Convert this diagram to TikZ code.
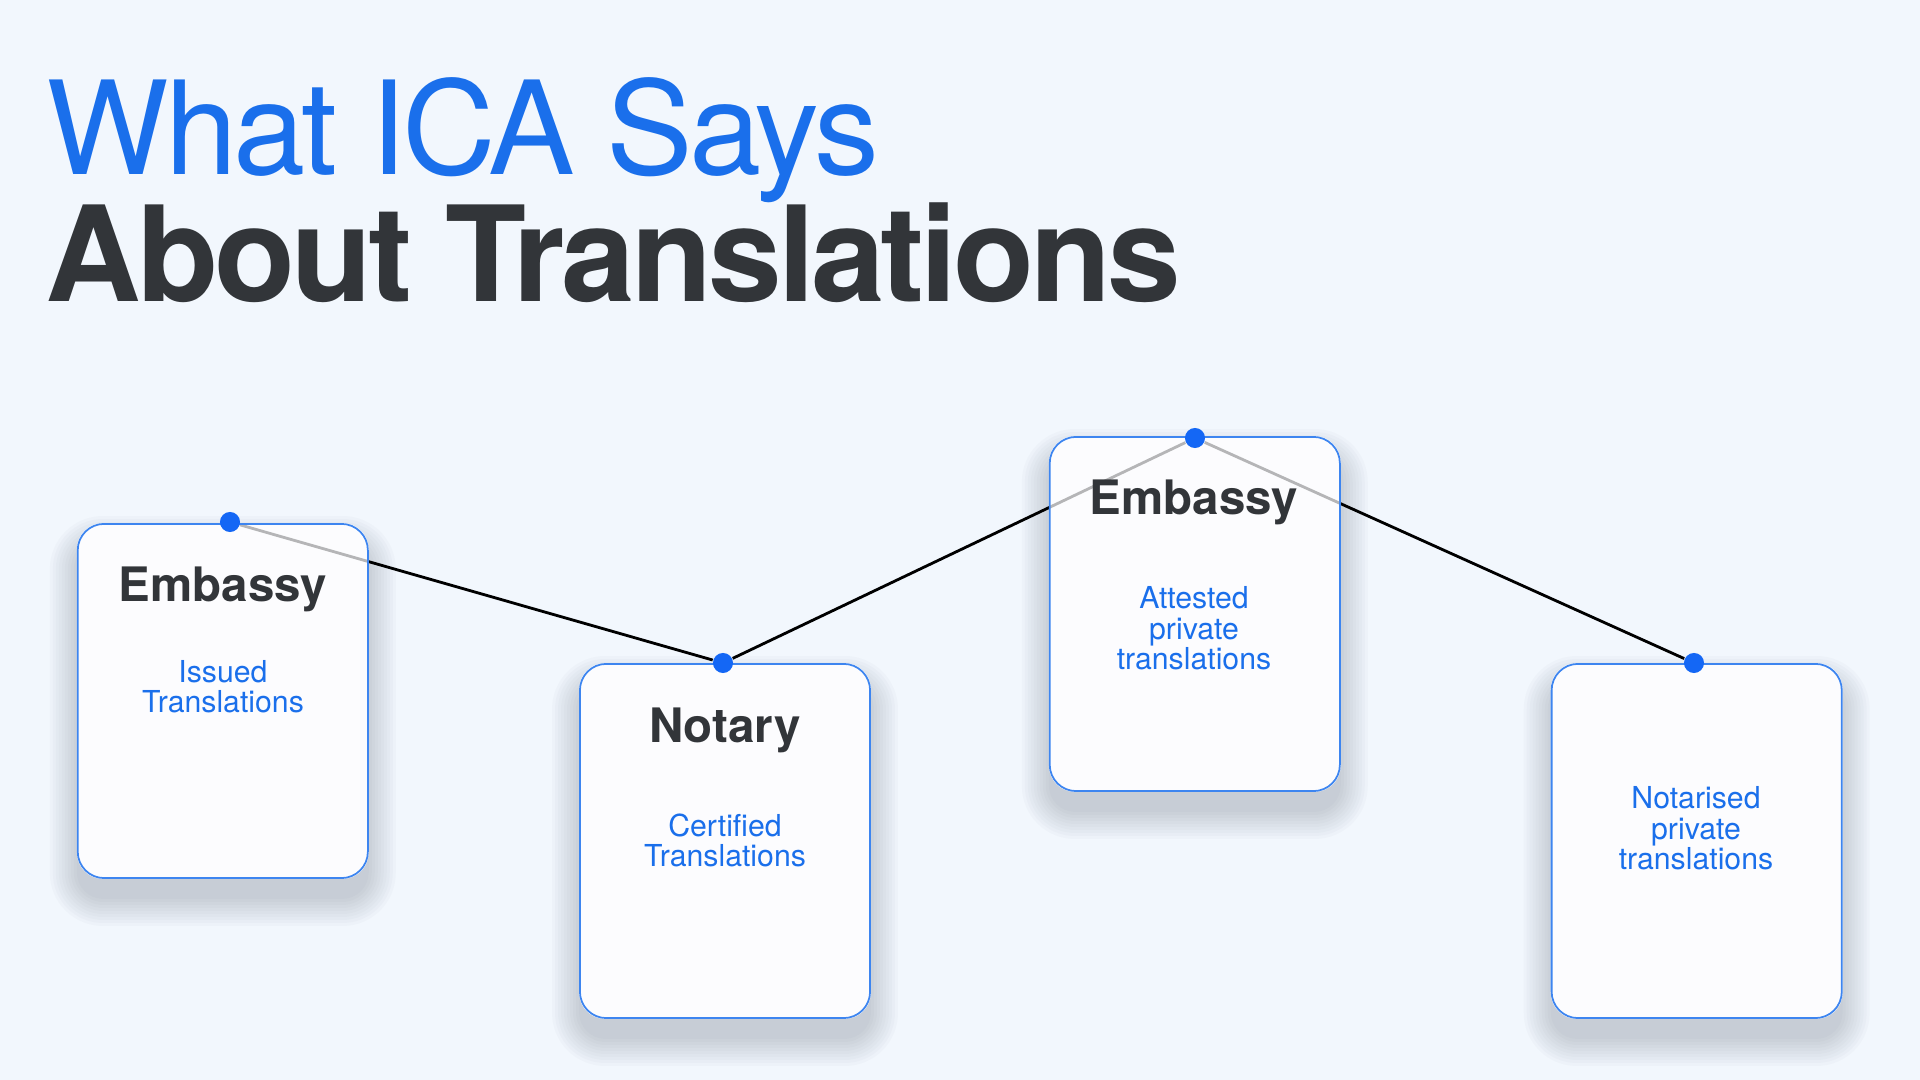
\documentclass[tikz,border=0pt]{standalone}
\usepackage{fontspec}
\setmainfont{TeX Gyre Heros}
\newfontfamily\headfont[LetterSpace=-3.0]{TeX Gyre Heros}
\usetikzlibrary{backgrounds}
\pgfdeclarelayer{cardbase}
\pgfdeclarelayer{links}
\pgfsetlayers{background,cardbase,links,main}
\definecolor{icablue}{HTML}{1A6FEB}
\definecolor{dotblue}{HTML}{1467F5}
\definecolor{edgeblue}{HTML}{3D85F0}
\definecolor{inkgray}{HTML}{323539}
\definecolor{pagebg}{HTML}{F2F7FD}
\definecolor{cardfill}{HTML}{FBFCFE}
\definecolor{shadowcol}{HTML}{55606E}
\tikzset{
  headline/.style={font=\headfont\fontsize{36.9}{40}\selectfont,inner sep=0pt,anchor=base west},
  card/.style={draw=edgeblue,line width=0.5pt,fill=cardfill,fill opacity=0.72,
    rounded corners=7.5pt,minimum width=2.9cm,minimum height=3.54cm,inner sep=0pt},
  cardhead/.style={font=\bfseries\fontsize{13.5}{15}\selectfont,text=inkgray,inner sep=0pt,anchor=base},
  cardtext/.style={font=\fontsize{8.6}{8.8}\selectfont,text=icablue,align=center,inner sep=0pt,anchor=base},
  dot/.style={circle,fill=dotblue,inner sep=0pt,minimum size=5.7pt},
  link/.style={line width=0.8pt,black}
}
\begin{document}
\begin{tikzpicture}[x=0.01cm,y=-0.01cm]
\begin{scope}[on background layer]
\fill[pagebg] (0,0) rectangle (1920,1080);
\end{scope}
\useasboundingbox (0,0) rectangle (1920,1080);
\node[headline,text=icablue] (title) at (46,175) {What ICA Says};
\node[headline,text=inkgray,font=\headfont\bfseries\fontsize{37.7}{40}\selectfont] (subtitle) at (45,302) {About Translations};
% cards
\node[card] (c1) at (222.8,701) {};
\node[card] (c2) at (725,841) {};
\node[card] (c3) at (1194.8,614) {};
\node[card] (c4) at (1696.7,841) {};
\node[cardhead] (h1) at (223,602) {Embassy};
\node[cardhead] (h2) at (725,743) {Notary};
\node[cardhead] (h3) at (1194,515) {Embassy};
\node[cardtext] (s1) at (223,713) {Issued\\Translations};
\node[cardtext] (s2) at (725,867) {Certified\\Translations};
\node[cardtext] (s3) at (1194,670) {Attested\\private\\translations};
\node[cardtext] (s4) at (1696,870) {Notarised\\private\\translations};
% shadows and solid backs
\begin{pgfonlayer}{cardbase}
\foreach \c in {c1,c2,c3,c4} {
  \foreach \e in {0,3,...,27}
    \fill[shadowcol,opacity=0.028,rounded corners=7.5pt+0.28pt*\e] ([shift={(-\e,-\e+20)}]\c.north west) rectangle ([shift={(\e,\e+20)}]\c.south east);
  \fill[white,rounded corners=7.5pt] (\c.north west) rectangle (\c.south east);
}
\end{pgfonlayer}
% pins
\node[dot] (d1) at (230,522) {};
\node[dot] (d2) at (723,663) {};
\node[dot] (d3) at (1195,438) {};
\node[dot] (d4) at (1694,663) {};
\begin{pgfonlayer}{links}
\draw[link] (d1) -- (d2) -- (d3) -- (d4);
\end{pgfonlayer}
\end{tikzpicture}
\end{document}
